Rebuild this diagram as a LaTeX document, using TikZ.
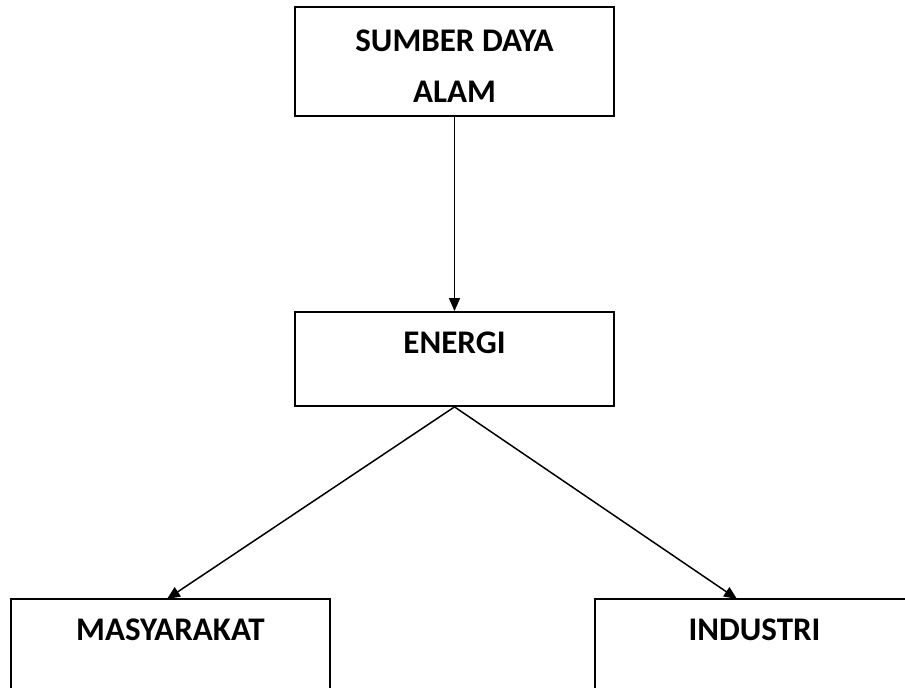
\documentclass[tikz,border=0pt]{standalone}
\usepackage{fontspec}
\setmainfont{Carlito}
\usetikzlibrary{arrows.meta,positioning}

\begin{document}
\begin{tikzpicture}[x=1pt,y=-1pt,
	box/.style={draw,line width=1.8pt,minimum width=319pt,inner sep=0pt},
	lbl/.style={font=\fontsize{33}{51}\selectfont\bfseries,align=center,inner sep=0pt},
	arr/.style={line width=1.5pt,-{Triangle[length=13pt,width=11pt]}}]
				\useasboundingbox (0,0) rectangle (905,688);
				\clip (0,0) rectangle (905,688);
				\node[box,minimum height=109pt] (sda) at (454.5,61.5){};
				\node[box,minimum height=94pt] (energi) at (454.5,359){};
				\node[box,minimum height=94pt] (mas) at (170.5,646){};
				\node[box,minimum height=94pt] (ind) at (754.5,646){};
				\node[lbl] (sdatext) at (454.5,66){SUMBER DAYA\\ALAM};
				\node[lbl] (energitext) at (454.5,343){ENERGI};
				\node[lbl] (mastext) at (170.5,630){MASYARAKAT};
				\node[lbl] (indtext) at (754.5,630){INDUSTRI};
				\coordinate (mastop) at (167,599);
				\coordinate (indtop) at (737,599);
				\draw[arr] (sda.south)--(energi.north);
				\draw[arr] (energi.south)--(mastop);
				\draw[arr] (energi.south)--(indtop);
			\end{tikzpicture}
\end{document}
